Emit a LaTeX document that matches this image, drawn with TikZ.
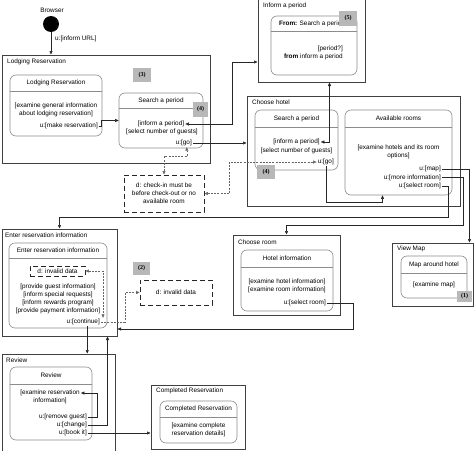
\documentclass[tikz,border=0pt]{standalone}
\usepackage{fontspec}
\setmainfont{Liberation Sans}
\newfontfamily\numfont{Liberation Serif}
\usetikzlibrary{arrows.meta}

\begin{document}
\begin{tikzpicture}[x=1pt,y=-1pt,
  every node/.style={font=\fontsize{6.4}{8}\selectfont, inner sep=1pt},
  superstate/.style 2 args={draw=black!75, line width=1pt, minimum width=#1, minimum height=#2, inner sep=0pt},
  uistate/.style 2 args={draw=black!45, line width=0.6pt, rounded corners=6pt, minimum width=#1, minimum height=#2, inner sep=0pt},
  headline/.style={draw=black!45, line width=0.6pt},
  tag/.style 2 args={fill=black!28, minimum width=#1, minimum height=#2, inner sep=0pt, font=\numfont\bfseries\fontsize{6}{7}\selectfont},
  datanote/.style 2 args={draw=black!85, line width=0.9pt, dash pattern=on 5pt off 3pt, minimum width=#1, minimum height=#2, inner sep=0pt, align=center},
  flow/.style={draw=black!85, line width=0.5pt, -{Triangle[length=3.5pt,width=3pt]}},
  twoway/.style={flow, {Triangle[length=3.5pt,width=3pt]}-{Triangle[length=3.5pt,width=3pt]}},
  guard/.style={flow, draw=black!60, dash pattern=on 2pt off 1.2pt},
  guardtwo/.style={twoway, draw=black!60, dash pattern=on 2pt off 1.2pt}
]
\useasboundingbox (0,0) rectangle (474,450);

% start
\node (browserLabel) at (52,10) {Browser};
\node[circle, fill=black, minimum size=16pt, inner sep=0pt] (browser) at (51,24) {};
\node[anchor=west] (informUrl) at (54,39) {u:[inform URL]};

% lodging reservation
\node[superstate={208}{108}] (lodging) at (106,109) {};
\node[anchor=west] (lodgingTitle) at (6,62) {Lodging Reservation};
\node[uistate={92}{61}] (lrState) at (56,105.5) {};
\draw[headline] (lrState.west |- 0,91) -- (lrState.east |- 0,91);
\node (lrHead) at (56,83) {Lodging Reservation};
\node[align=center] (lrText) at (56,110) {[examine general information\\about lodging reservation]};
\node[anchor=east] (mr) at (99,126) {u:[make reservation]};
\node[uistate={84}{55}] (spState) at (161,120.5) {};
\draw[headline] (spState.west |- 0,108) -- (spState.east |- 0,108);
\node (spHead) at (161,100.5) {Search a period};
\node (spip) at (161,124) {[inform a period]};
\node (spsel) at (162,131.5) {[select number of guests]};
\node[anchor=east] (spgo) at (193,143) {u:[go]};
\node[tag={18}{14}] (tag3) at (142,75) {(3)};
\node[tag={15}{15}] (tag4a) at (200.5,109.5) {(4)};

% inform a period
\node[superstate={107}{84}] (inform) at (311.5,40) {};
\node[anchor=west] (informTitle) at (262,6) {Inform a period};
\node[uistate={86}{59}] (ipState) at (314,45.5) {};
\draw[headline] (ipState.west |- 0,31) -- (ipState.east |- 0,31);
\node[anchor=west] (ipHead) at (278,23.5) {\textbf{From:} Search a period};
\node[anchor=east] (ipq) at (344,49) {[period?]};
\node[anchor=east] (ipfrom) at (344,57) {\textbf{from} inform a period};
\node[tag={18}{15}] (tag5) at (348,18.5) {(5)};

% choose hotel
\node[superstate={213}{110}] (hotel) at (353.5,151) {};
\node[anchor=west] (hotelTitle) at (251,102) {Choose hotel};
\node[uistate={83}{60}] (sp2State) at (296.5,140) {};
\draw[headline] (sp2State.west |- 0,127) -- (sp2State.east |- 0,127);
\node (sp2Head) at (296.5,118.5) {Search a period};
\node (hip) at (296.5,142) {[inform a period]};
\node (hsel) at (296.5,151) {[select number of guests]};
\node[anchor=east] (hgo) at (335,162) {u:[go]};
\node[tag={18}{14}] (tag4b) at (266,172) {(4)};
\node[uistate={107}{85}] (arState) at (398.5,152.5) {};
\draw[headline] (arState.west |- 0,127) -- (arState.east |- 0,127);
\node (arHead) at (398.5,118.5) {Available rooms};
\node[align=center] (arText) at (398.5,152) {[examine hotels and its room\\options]};
\node[anchor=east] (armap) at (442,169) {u:[map]};
\node[anchor=east] (armore) at (442,177.5) {u:[more information]};
\node[anchor=east] (arsel) at (442,186) {u:[select room]};

\node[datanote={80}{37}] (check) at (164,193.5) {d: check-in must be\\before check-out or no\\available room};

% choose room
\node[superstate={107}{80}] (room) at (286.5,275) {};
\node[anchor=west] (roomTitle) at (237,242) {Choose room};
\node[uistate={92}{61}] (hiState) at (287,280.5) {};
\draw[headline] (hiState.west |- 0,267) -- (hiState.east |- 0,267);
\node (hiHead) at (287,258.5) {Hotel information};
\node[align=center] (hiText) at (287,286) {[examine hotel information]\\{}[examine room information]};
\node[anchor=east] (hisel) at (327,303) {u:[select room]};

% view map
\node[superstate={81}{63}] (viewmap) at (432.5,274.5) {};
\node[anchor=west] (viewmapTitle) at (396,249) {View Map};
\node[uistate={66}{42}] (mapState) at (434,277) {};
\draw[headline] (mapState.west |- 0,273) -- (mapState.east |- 0,273);
\node (mapHead) at (434,264.5) {Map around hotel};
\node (mapText) at (434,285) {[examine map]};
\node[tag={15}{11}] (tag1) at (464.5,296.5) {(1)};

% enter reservation information
\node[superstate={115}{107}] (enter) at (59.5,282.5) {};
\node[anchor=west] (enterTitle) at (4,235) {Enter reservation information};
\node[uistate={98}{85}] (eriState) at (58,285.5) {};
\draw[headline] (eriState.west |- 0,258) -- (eriState.east |- 0,258);
\node (eriHead) at (58,250.5) {Enter reservation information};
\node[datanote={55}{10}] (dInner) at (57.5,271) {d: invalid data};
\node[align=center] (eriText) at (58,299) {[provide guest information]\\{}[inform special requests]\\{}[inform rewards program]\\{}[provide payment information]};
\node[anchor=east] (cont) at (101,322) {u:[continue]};
\node[tag={17}{13}] (tag2) at (141.5,268.5) {(2)};
\node[datanote={72}{25}] (dOuter) at (176,292.5) {d: invalid data};

% review
\node[superstate={113}{101}] (review) at (58.5,404.5) {};
\node[anchor=west] (reviewTitle) at (5,360) {Review};
\node[uistate={82}{73}] (rvState) at (51,403.5) {};
\draw[headline] (rvState.west |- 0,384) -- (rvState.east |- 0,384);
\node (rvHead) at (51,375.5) {Review};
\node[align=center] (rvText) at (50,397) {[examine reservation\\information]};
\node[anchor=east] (rmg) at (88,417) {u:[remove guest]};
\node[anchor=east] (chg) at (88,425) {u:[change]};
\node[anchor=east] (book) at (88,433) {u:[book it]};

% completed reservation
\node[superstate={94}{64}] (completed) at (198,417) {};
\node[anchor=west] (completedTitle) at (155,391) {Completed Reservation};
\node[uistate={77}{42}] (crState) at (198.5,422) {};
\draw[headline] (crState.west |- 0,417) -- (crState.east |- 0,417);
\node (crHead) at (198.5,409) {Completed Reservation};
\node[align=center] (crText) at (198.5,430) {[examine complete\\reservation details]};

% transitions
\draw[flow] (browser) -- (browser |- lodging.north);
\draw[flow] (mr.east) -- ++(2,0) |- (spState.west);
\draw[twoway] (spip.east) -- ++(47,0) |- ([yshift=-22pt]inform.west);
\draw[flow] (spgo.east) -- (spgo.east -| hotel.west);
\draw[guardtwo] (check.north) -- ++(0,-18) -| ([xshift=3pt]spgo.south);
\draw[twoway] (hip.east) -| ([xshift=18pt]inform.south);
\draw[guardtwo] (check.east) -- ++(25,0) |- (hgo.west);
\draw[flow] (hgo.south) -- ++(0,36) -| ([xshift=-16pt]arState.south);
\draw[flow] (armap.east) -| ([xshift=37pt]viewmap.north);
\draw[flow] (armore.east) -- ++(21,0) -- ++(0,48) -| (room.north);
\draw[flow] (arsel.east) -- ++(6,0) -- ++(0,31) -| (enter.north);
\draw[flow] (hisel.east) -- ++(26,0) |- ([yshift=-46.5pt]enter.east);
\draw[guardtwo] (dInner.east) -| ([xshift=2pt]cont.north east);
\draw[guard] (cont.east) -- ++(24,0) |- (dOuter.west);
\draw[flow] ([xshift=4pt]cont.south) -- ([xshift=4pt]cont.south |- review.north);
\draw[flow] (chg.east) -| ([xshift=48pt]enter.south);
\draw[flow] (rmg.east) -- ++(9,0) |- ([yshift=4pt]rvText.east);
\draw[flow] (book.east) -- (book.east -| completed.west);
\end{tikzpicture}
\end{document}
